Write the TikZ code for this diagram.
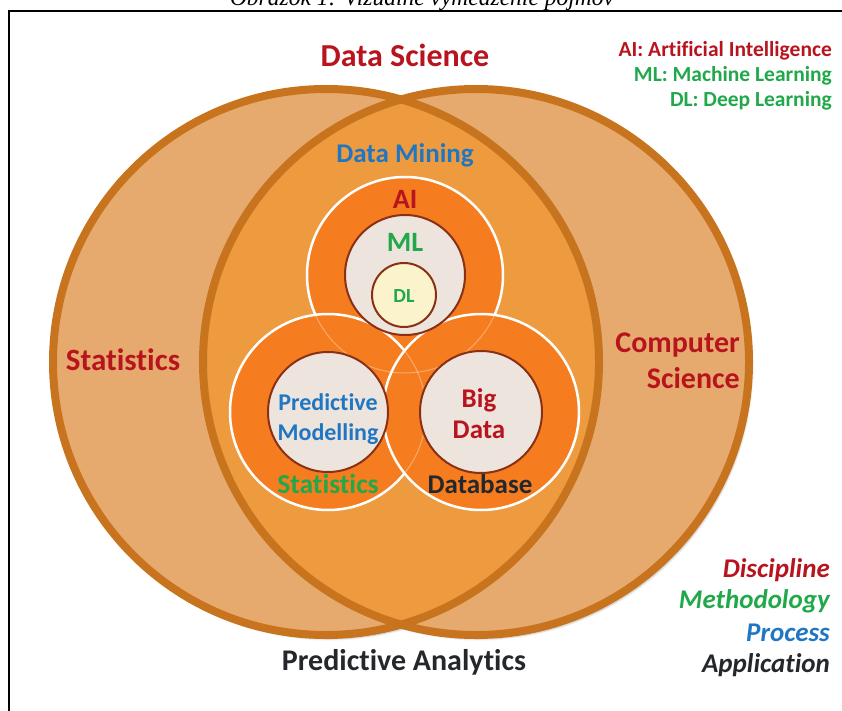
\documentclass[tikz,border=0pt]{standalone}
\usepackage{fontspec}
\setmainfont{Carlito}[Ligatures=NoCommon]
\newfontfamily\captionfont{Liberation Serif}
\usetikzlibrary{shadows.blur}

\definecolor{OuterFill}{HTML}{E6AA6E}
\definecolor{InnerFill}{HTML}{EE9B40}
\definecolor{OuterEdge}{HTML}{C8741E}
\definecolor{InnerEdge}{HTML}{DA872D}
\definecolor{RingFill}{HTML}{F57C1F}
\definecolor{CoreFill}{HTML}{EDE4DD}
\definecolor{CoreEdge}{HTML}{8A3015}
\definecolor{DeepFill}{HTML}{FBF3CC}
\definecolor{TextRed}{HTML}{B8141E}
\definecolor{TextGreen}{HTML}{20A84A}
\definecolor{TextBlue}{HTML}{1F76C2}
\definecolor{TextDark}{HTML}{24282C}

\newcommand{\fsize}[2]{\fontsize{#1}{#2}\selectfont\bfseries}

\tikzset{
    ring/.style={fill=RingFill, draw=white, line width=2.5pt},
    core/.style={fill=CoreFill, draw=CoreEdge, line width=2pt},
    tag/.style={inner sep=0pt, anchor=base},
    tagright/.style={inner sep=0pt, anchor=base east, align=right}
}

\begin{document}
\begin{tikzpicture}[x=1pt, y=-1pt]

    \useasboundingbox (0,0) rectangle (842,711);
    \clip (0,0) rectangle (842,711);

    % Titulo y marco
    \node[tag, font=\captionfont\itshape\fontsize{23.5}{28}\selectfont] (caption) at (422,6) {Obrázok 1: Vizuálne vymedzenie pojmov};
    \draw[line width=2pt] (9,720) -- (9,11) -- (850,11);

    % Centros de los circulos
    \coordinate (S) at (326,362);
    \coordinate (C) at (476,362);
    \coordinate (A) at (405,275);
    \coordinate (P) at (328,412);
    \coordinate (B) at (481,412);
    \coordinate (D) at (404,295);

    % Circulos grandes
    \fill[OuterFill, blur shadow={shadow blur steps=6, shadow xshift=3pt, shadow yshift=-4pt, shadow opacity=25}] (S) circle[radius=273];
    \fill[OuterFill, blur shadow={shadow blur steps=6, shadow xshift=3pt, shadow yshift=-4pt, shadow opacity=25}] (C) circle[radius=273];
    \fill[OuterFill] (S) circle[radius=273];
    \begin{scope}
        \clip (S) circle[radius=273];
        \fill[InnerFill] (C) circle[radius=273];
    \end{scope}
    \draw[OuterEdge, line width=8pt] (S) circle[radius=273];
    \draw[OuterEdge, line width=8pt] (C) circle[radius=273];
    \begin{scope}
        \clip (S) circle[radius=269];
        \clip (C) circle[radius=269];
        \draw[InnerEdge, line width=8pt] (S) circle[radius=273];
        \draw[InnerEdge, line width=8pt] (C) circle[radius=273];
    \end{scope}

    % Anillos naranjas
    \draw[ring] (A) circle[radius=98];
    \draw[ring] (P) circle[radius=98];
    \draw[ring] (B) circle[radius=98];
    \draw[white, line width=1pt, opacity=0.35] (A) circle[radius=98];
    \draw[white, line width=1pt, opacity=0.35] (P) circle[radius=98];

    % Circulos interiores
    \draw[core] (A) circle[radius=60];
    \draw[core, fill=DeepFill] (D) circle[radius=32];
    \draw[core] (P) circle[radius=60];
    \draw[core] (B) circle[radius=61];

    % Etiquetas
    \node[tag, TextRed, font=\fsize{32}{36}] (ds) at (405,67) {Data Science};
    \node[tag, TextBlue, font=\fsize{27}{32}] (dm) at (405,163) {Data Mining};
    \node[tag, TextRed, font=\fsize{28}{32}] (ai) at (405,208) {AI};
    \node[tag, TextGreen, font=\fsize{28}{32}] (ml) at (405,251) {ML};
    \node[tag, TextGreen, font=\fsize{20}{24}] (dl) at (404,302) {DL};
    \node[tag, TextRed, font=\fsize{31}{36}] (stat) at (123,370) {Statistics};
    \node[tagright, TextRed, font=\fsize{30}{36}] (cs) at (740,388) {Computer\\Science};
    \node[tag, align=center, TextBlue, font=\fsize{24}{30}] (pm) at (328,440) {Predictive\\Modelling};
    \node[tag, align=center, TextRed, font=\fsize{27}{31}] (bd) at (479,438) {Big\\Data};
    \node[tag, TextGreen, font=\fsize{27.5}{32}] (st) at (328,493) {Statistics};
    \node[tag, TextDark, font=\fsize{27}{32}] (db) at (480,493) {Database};
    \node[tag, TextDark, font=\fsize{30}{34}] (pa) at (404,670) {Predictive Analytics};

    % Leyenda
    \node[tagright, TextRed, font=\fsize{21.5}{25}] (lai) at (832,57) {AI: Artificial Intelligence};
    \node[tagright, TextGreen, font=\fsize{21.5}{25}] (lml) at (832,82) {ML: Machine Learning};
    \node[tagright, TextGreen, font=\fsize{21.5}{25}] (ldl) at (832,107) {DL: Deep Learning};

    \node[tagright, TextRed, font=\fsize{27}{30}\itshape] (dis) at (830,577) {Discipline};
    \node[tagright, TextGreen, font=\fsize{27}{30}\itshape] (met) at (830,608) {Methodology};
    \node[tagright, TextBlue, font=\fsize{27}{30}\itshape] (pro) at (830,641) {Process};
    \node[tagright, TextDark, font=\fsize{27}{30}\itshape] (app) at (830,672) {Application};

\end{tikzpicture}
\end{document}
